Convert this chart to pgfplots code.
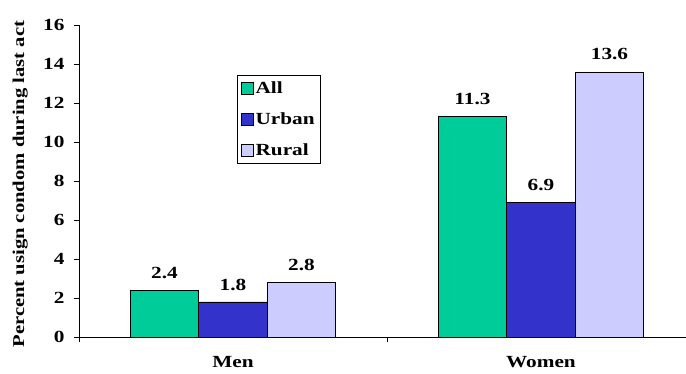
\documentclass[border=0pt]{standalone}
\usepackage{pgfplots}
\pgfplotsset{compat=1.18}
\usepackage{fontspec}
\setmainfont{Liberation Serif}[FakeStretch=1.25]
\definecolor{cAll}{HTML}{00CC99}
\definecolor{cUrban}{HTML}{3333CC}
\definecolor{cRural}{HTML}{CCCCFF}
\newcommand{\lf}{\bfseries\fontsize{17}{19}\selectfont}
\newcommand{\yf}{\bfseries\fontsize{16.5}{19}\selectfont}
\begin{document}
\begin{tikzpicture}
\begin{axis}[
  at={(0,0)}, anchor=south west,
  scale only axis,
  width=607pt, height=312pt,
  xmin=-0.5, xmax=1.471,
  ymin=0, ymax=16,
  axis lines*=left,
  axis line style={black, line width=0.6pt},
  ybar=0pt,
  bar width=0.2225,
  xtick={0,1},
  xticklabels={Men,Women},
  major x tick style={draw=none},
  minor xtick={-0.5,0.5,1.5},
  minor x tick style={black, line width=0.6pt},
  minor tick length=5pt,
  ytick={0,2,...,16},
  y tick style={black, line width=0.6pt},
  major tick length=5pt,
  tick align=outside,
  /pgf/number format/assume math mode=true,
  ticklabel style={font=\lf},
  yticklabel style={xshift=-6pt},
  xticklabel style={yshift=-11pt},
  ylabel={Percent usign condom during last act},
  every axis y label/.style={at={(rel axis cs:-0.097,0.49)}, rotate=90, anchor=center, font=\yf},
  nodes near coords,
  nodes near coords style={font=\lf, anchor=south, yshift=8pt},
  legend style={at={(rel axis cs:0.260,0.840)}, anchor=north west, draw=black, line width=0.6pt, font=\lf, row sep=14pt, inner sep=4pt},
  legend cell align=left,
  legend image code/.code={\draw[#1, draw=black, line width=0.5pt] (0pt,-6pt) rectangle (12pt,6pt);},
]
\addplot[fill=cAll, draw=black, line width=0.6pt] coordinates {(0,2.4) (1,11.3)};
\addplot[fill=cUrban, draw=black, line width=0.6pt] coordinates {(0,1.8) (1,6.9)};
\addplot[fill=cRural, draw=black, line width=0.6pt] coordinates {(0,2.8) (1,13.6)};
\legend{All,Urban,Rural}
\end{axis}
\pgfresetboundingbox
\path[use as bounding box] (-79pt,-36pt) rectangle (607pt,337pt);
\end{tikzpicture}
\end{document}
